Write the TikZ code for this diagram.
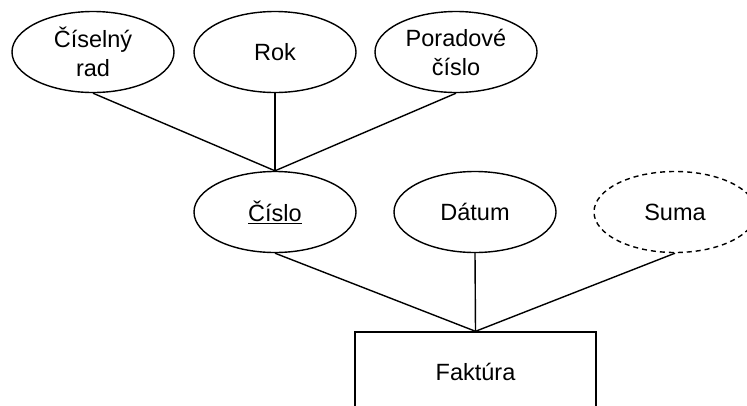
\documentclass[tikz,border=0pt]{standalone}
\usepackage{fontspec}
\setmainfont{Liberation Sans}
\usetikzlibrary{shapes.geometric}
\begin{document}
\begin{tikzpicture}[x=1pt,y=-1pt,
  attr/.style={ellipse,draw,line width=1.4pt,minimum width=162pt,minimum height=81pt,inner sep=0pt,align=center,font=\fontsize{23.5}{29}\selectfont},
  derived/.style={attr,dash pattern=on 5pt off 4pt},
  entity/.style={rectangle,draw,line width=1.4pt,minimum width=241pt,minimum height=80pt,inner sep=0pt,font=\fontsize{23.5}{29}\selectfont},
  conn/.style={line width=1.4pt}]
\useasboundingbox (0,0) rectangle (747,405);
\node[attr] (rad) at (93,52) {Číselný\\rad};
\node[attr] (rok) at (275,52) {Rok};
\node[attr] (por) at (456,52) {Poradové\\číslo};
\node[attr] (cis) at (275,212) {\underline{Číslo}};
\node[attr] (dat) at (475,212) {Dátum};
\node[derived] (sum) at (675,212) {Suma};
\node[entity] (fak) at (475.5,372) {Faktúra};
\draw[conn] (rad.south) -- (cis.north);
\draw[conn] (rok.south) -- (cis.north);
\draw[conn] (por.south) -- (cis.north);
\draw[conn] (cis.south) -- (fak.north);
\draw[conn] (dat.south) -- (fak.north);
\draw[conn] (sum.south) -- (fak.north);
\end{tikzpicture}
\end{document}
